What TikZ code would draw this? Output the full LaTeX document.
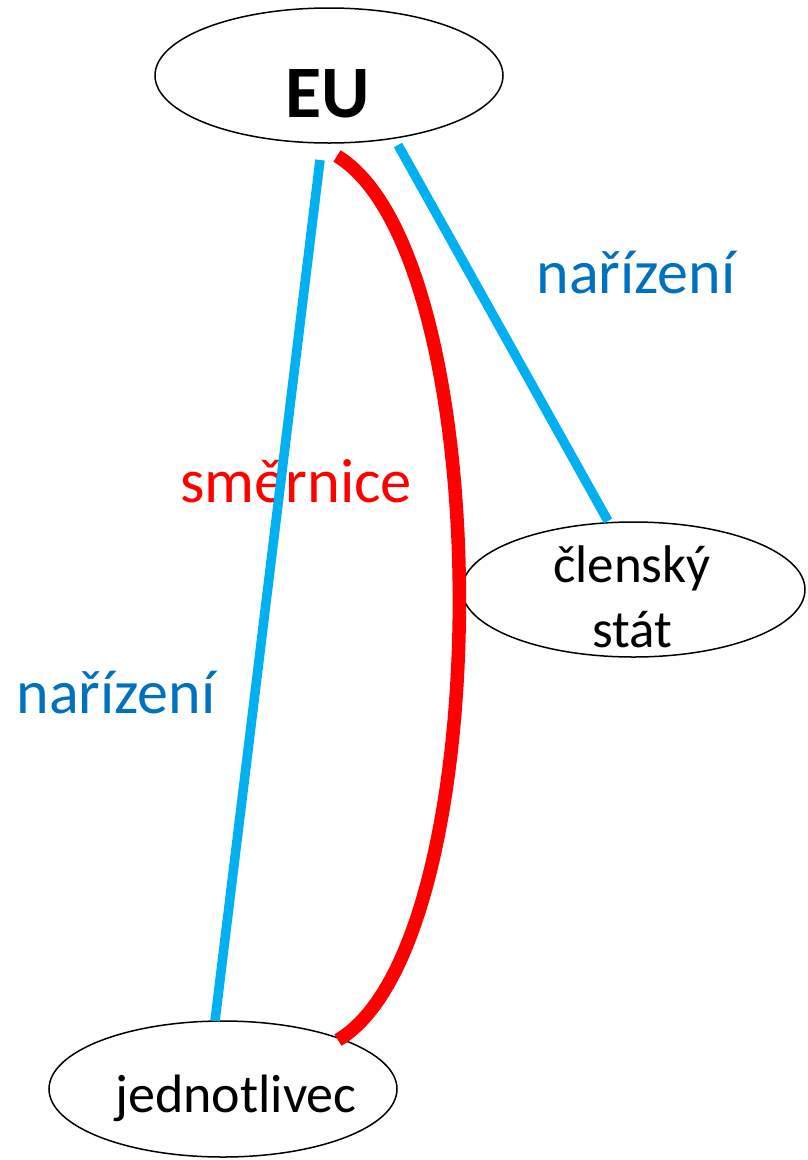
\documentclass[tikz,border=0pt]{standalone}
\usepackage{fontspec}
\setmainfont{Carlito}
\usetikzlibrary{shapes.geometric}
\definecolor{lineblue}{HTML}{00B0F0}
\definecolor{textblue}{HTML}{0070C0}
\definecolor{redline}{HTML}{FF0000}
\begin{document}
\begin{tikzpicture}[x=1pt,y=-1pt,
  oval/.style={draw=black,line width=1.5pt,ellipse,inner sep=0pt},
  bluelabel/.style={text=textblue,font=\fontsize{62}{74}\selectfont,anchor=base,inner sep=0pt},
  redlabel/.style={text=redline,font=\fontsize{62.5}{74}\selectfont,anchor=base,inner sep=0pt},
  nodetext/.style={font=\fontsize{53}{64}\selectfont,anchor=base,inner sep=0pt},
  blueconn/.style={draw=lineblue,line width=9.5pt},
  redconn/.style={draw=redline,line width=13.5pt}]
\useasboundingbox (0,0) rectangle (808,1160);
% ellipses
\node[oval,minimum width=348pt,minimum height=135pt] (eu) at (329,75.5) {};
\node[oval,minimum width=343pt,minimum height=135pt] (cs) at (633.5,589.5) {};
\node[oval,minimum width=348pt,minimum height=136pt] (jd) at (223,1089) {};
% node texts
\node[anchor=base,inner sep=0pt,font=\fontsize{74}{88}\selectfont\bfseries] (eut) at (328,117) {EU};
\node[nodetext] (cst1) at (632,582) {členský};
\node[nodetext] (cst2) at (632,647) {stát};
\node[font=\fontsize{54}{64}\selectfont,anchor=base,inner sep=0pt] (jdt) at (236,1112) {jednotlivec};
% labels
\node[bluelabel] (l1) at (636,293) {nařízení};
\node[redlabel] (l2) at (296,502) {směrnice};
\node[bluelabel] (l3) at (116,713) {nařízení};
% connectors
\coordinate (b1s) at (320,160);
\coordinate (b1e) at (215,1021);
\coordinate (b2s) at (398,145);
\coordinate (b2e) at (608,521);
\coordinate (rs) at (337,156);
\coordinate (re) at (338,1040);
\draw[blueconn] (b1s) -- (b1e);
\draw[blueconn] (b2s) -- (b2e);
\draw[redconn] (rs) .. controls (500,255) and (500,945) .. (re);
\end{tikzpicture}
\end{document}
